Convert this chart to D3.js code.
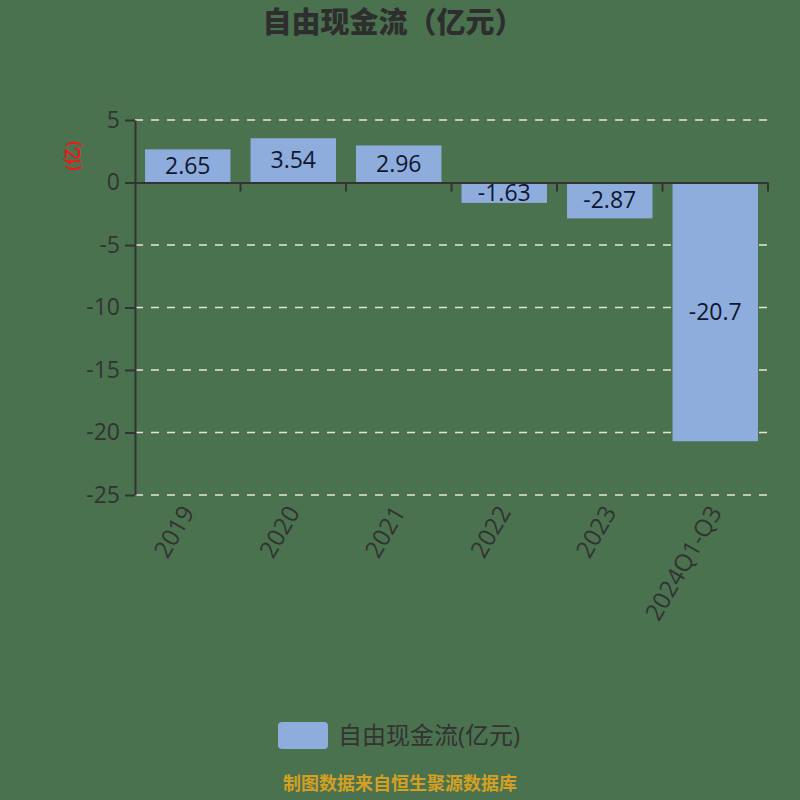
<!DOCTYPE html>
<html>
<head>
<meta charset="utf-8">
<script src="https://cdn.jsdelivr.net/npm/d3@7"></script>
<style>
  body { margin: 0; background: #4a724f; }
  svg { display: block; font-family: "Open Sans", "Noto Sans CJK SC", sans-serif; }
</style>
</head>
<body>
<div id="chart"></div>
<script>
var categories = ['2019', '2020', '2021', '2022', '2023', '2024Q1-Q3'];
var values = [2.65, 3.54, 2.96, -1.63, -2.87, -20.7];
var labels = ['2.65', '3.54', '2.96', '-1.63', '-2.87', '-20.7'];
var yTicks = [5, 0, -5, -10, -15, -20, -25];

var width = 800, height = 800;
var pleft = 135, pright = 768, ptop = 120, pbottom = 495;
var bcolor = '#8eaddc';
var axisColor = '#333333';
var font = '"Open Sans", "Noto Sans CJK SC", sans-serif';

var svg = d3.select('#chart').append('svg')
  .attr('width', width)
  .attr('height', height);

svg.append('rect')
  .attr('width', width).attr('height', height)
  .attr('fill', '#4a724f');

var x = d3.scaleBand()
  .domain(categories)
  .range([pleft, pright])
  .paddingInner(0.19)
  .paddingOuter(0.095);

var xb = d3.scaleBand().domain(categories).range([pleft, pright]);

var y = d3.scaleLinear().domain([-25, 5]).range([pbottom, ptop]);

// title
svg.append('text')
  .attr('x', 393).attr('y', 33)
  .attr('text-anchor', 'middle')
  .attr('font-size', 29).attr('font-weight', 900)
  .attr('font-family', '"Noto Sans CJK SC", sans-serif')
  .attr('fill', '#2e2e2e')
  .text('自由现金流（亿元）');

// grid
svg.append('g').selectAll('line')
  .data(yTicks.filter(function(d){ return d !== 0; }))
  .enter().append('line')
  .attr('x1', pleft).attr('x2', pright)
  .attr('y1', function(d){ return y(d); })
  .attr('y2', function(d){ return y(d); })
  .attr('stroke', '#e6e6d6')
  .attr('stroke-width', 1.5)
  .attr('stroke-dasharray', '8,8');

// bars
svg.append('g').selectAll('rect')
  .data(values)
  .enter().append('rect')
  .attr('x', function(d, i){ return x(categories[i]); })
  .attr('width', x.bandwidth())
  .attr('y', function(d){ return y(Math.max(0, d)); })
  .attr('height', function(d){ return Math.abs(y(d) - y(0)); })
  .attr('fill', bcolor);

// value labels
svg.append('g').selectAll('text')
  .data(values)
  .enter().append('text')
  .attr('x', function(d, i){ return x(categories[i]) + x.bandwidth() / 2; })
  .attr('y', function(d){ return (y(d) + y(0)) / 2; })
  .attr('dy', '0.35em')
  .attr('text-anchor', 'middle')
  .attr('font-size', 23)
  .attr('fill', '#0f1730')
  .text(function(d, i){ return labels[i]; });

// y axis
var yAxis = svg.append('g')
  .attr('transform', 'translate(' + pleft + ',0)')
  .call(d3.axisLeft(y).tickValues(yTicks).tickSize(10).tickSizeOuter(0)
    .tickFormat(function(d){ return String(d); }));
yAxis.attr('font-family', font);
yAxis.select('.domain').attr('stroke', axisColor).attr('stroke-width', 2);
yAxis.selectAll('.tick line').attr('stroke', axisColor).attr('stroke-width', 2);
yAxis.selectAll('.tick text')
  .attr('font-size', 23).attr('fill', axisColor)
  .attr('x', -15);

// x axis on zero line
var xAxis = svg.append('g')
  .attr('transform', 'translate(0,' + y(0) + ')')
  .call(d3.axisBottom(xb).tickSize(0).tickFormat(''));
xAxis.select('.domain').attr('stroke', axisColor).attr('stroke-width', 2);
xAxis.selectAll('.tick').remove();
xAxis.selectAll('line.bt')
  .data(categories)
  .enter().append('line')
  .attr('class', 'bt')
  .attr('x1', function(d){ return xb(d) + xb.bandwidth(); })
  .attr('x2', function(d){ return xb(d) + xb.bandwidth(); })
  .attr('y1', 0).attr('y2', 9)
  .attr('stroke', axisColor).attr('stroke-width', 2);

// category labels
svg.append('g').selectAll('text')
  .data(categories)
  .enter().append('text')
  .attr('transform', function(d){
    return 'translate(' + (xb(d) + xb.bandwidth() / 2) + ',' + (pbottom + 13) + ') rotate(-60)';
  })
  .attr('text-anchor', 'end')
  .attr('dy', '0.35em')
  .attr('font-size', 24)
  .attr('fill', axisColor)
  .text(function(d){ return d; });

// unit label
svg.append('text')
  .attr('transform', 'translate(73,156) rotate(-90)')
  .attr('text-anchor', 'middle')
  .attr('dy', '0.35em')
  .attr('font-size', 18)
  .attr('font-weight', 'bold')
  .attr('fill', '#e0201a')
  .text('(亿)');

// legend
svg.append('rect')
  .attr('x', 278).attr('y', 722)
  .attr('width', 50).attr('height', 27)
  .attr('rx', 4)
  .attr('fill', bcolor);
svg.append('text')
  .attr('x', 338).attr('y', 736)
  .attr('dy', '0.35em')
  .attr('font-size', 24)
  .attr('fill', '#333')
  .text('自由现金流(亿元)');

// footer
svg.append('text')
  .attr('x', 400).attr('y', 790)
  .attr('text-anchor', 'middle')
  .attr('font-size', 18)
  .attr('font-weight', 'bold')
  .attr('fill', '#d4a024')
  .text('制图数据来自恒生聚源数据库');
</script>
</body>
</html>
